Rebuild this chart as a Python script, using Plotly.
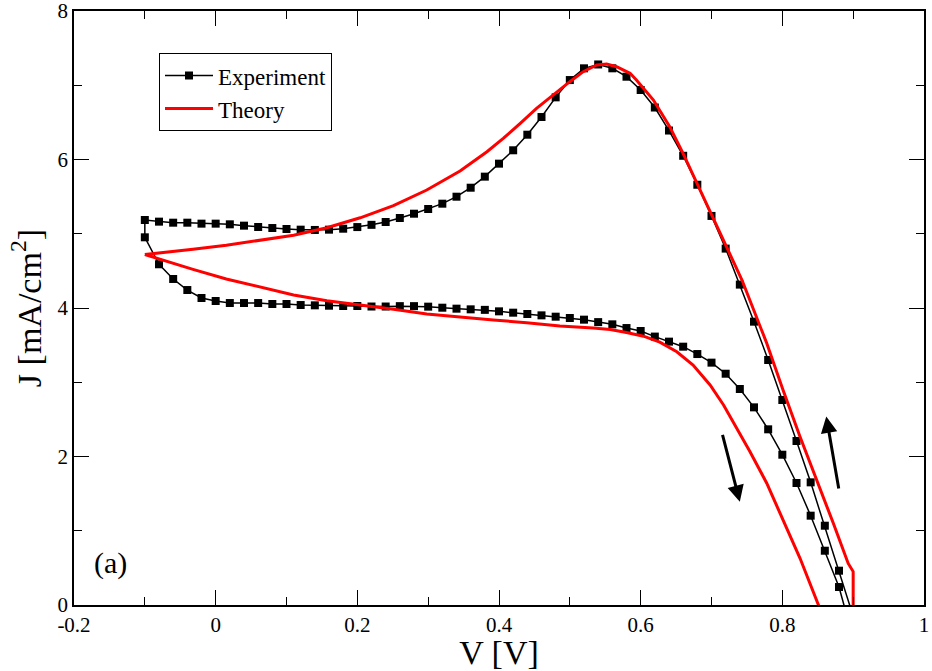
import plotly.graph_objects as go

# ---------------- data ----------------
# Experiment: outer (reverse) branch, V from 0.90 down to -0.10
exp_outer_v = [0.90, 0.88, 0.86, 0.84, 0.82, 0.80, 0.78, 0.76, 0.74, 0.72, 0.70, 0.68, 0.66, 0.64,
               0.62, 0.60, 0.58, 0.56, 0.54, 0.52, 0.50, 0.48, 0.46, 0.44, 0.42, 0.40, 0.38, 0.36,
               0.34, 0.32, 0.30, 0.28, 0.26, 0.24, 0.22, 0.20, 0.18, 0.16, 0.14, 0.12, 0.10, 0.08,
               0.06, 0.04, 0.02, 0.00, -0.02, -0.04, -0.06, -0.08, -0.10]
exp_outer_j = [-0.15, 0.462, 1.068, 1.652, 2.209, 2.761, 3.300, 3.816, 4.315, 4.80, 5.24, 5.66, 6.05, 6.39,
               6.70, 6.936, 7.115, 7.228, 7.28, 7.228, 7.07, 6.837, 6.572, 6.334, 6.124, 5.944, 5.769, 5.62,
               5.499, 5.405, 5.333, 5.27, 5.212, 5.158, 5.12, 5.09, 5.068, 5.055, 5.051, 5.055, 5.064, 5.077,
               5.091, 5.109, 5.127, 5.136, 5.136, 5.149, 5.149, 5.163, 5.185]
# Experiment: inner (forward) branch, V from -0.10 up to 0.90
exp_inner_v = [-0.10, -0.08, -0.06, -0.04, -0.02, 0.00, 0.02, 0.04, 0.06, 0.08, 0.10, 0.12, 0.14, 0.16,
               0.18, 0.20, 0.22, 0.24, 0.26, 0.28, 0.30, 0.32, 0.34, 0.36, 0.38, 0.40, 0.42, 0.44,
               0.46, 0.48, 0.50, 0.52, 0.54, 0.56, 0.58, 0.60, 0.62, 0.64, 0.66, 0.68, 0.70, 0.72,
               0.74, 0.76, 0.78, 0.80, 0.82, 0.84, 0.86, 0.88, 0.90]
exp_inner_j = [4.952, 4.589, 4.391, 4.242, 4.135, 4.094, 4.067, 4.067, 4.067, 4.054, 4.054, 4.040, 4.036, 4.031,
               4.027, 4.027, 4.02, 4.02, 4.025, 4.025, 4.018, 4.004, 3.991, 3.982, 3.975, 3.955, 3.937, 3.919,
               3.901, 3.883, 3.865, 3.843, 3.81, 3.78, 3.73, 3.69, 3.615, 3.547, 3.479, 3.380, 3.264, 3.115,
               2.909, 2.662, 2.366, 2.024, 1.643, 1.203, 0.731, 0.242, -0.45]

# Theory: forward (inner) branch from -0.1 toward Voc
th_inner_v = [-0.10, -0.079, -0.032, 0.015, 0.063, 0.11, 0.157, 0.204, 0.251, 0.298, 0.345, 0.392,
              0.439, 0.486, 0.533, 0.557, 0.580, 0.604, 0.627, 0.651, 0.674, 0.698, 0.717, 0.731,
              0.754, 0.778, 0.801, 0.825, 0.851, 0.90]
th_inner_j = [4.72, 4.656, 4.521, 4.391, 4.279, 4.175, 4.099, 4.045, 3.982, 3.919, 3.874, 3.838,
              3.802, 3.758, 3.73, 3.71, 3.67, 3.62, 3.54, 3.41, 3.232, 2.963, 2.694, 2.46,
              2.07, 1.64, 1.145, 0.629, 0.0, -1.2]
# Theory: reverse (outer) branch from 0.9 back to -0.1
th_outer_v = [0.90, 0.90, 0.893, 0.872, 0.848, 0.825, 0.801, 0.778, 0.743, 0.72, 0.70, 0.68, 0.66,
              0.641, 0.618, 0.594, 0.585, 0.566, 0.552, 0.538, 0.519, 0.500, 0.477, 0.453, 0.430,
              0.406, 0.383, 0.345, 0.298, 0.251, 0.204, 0.157, 0.11, 0.063, 0.015, -0.032, -0.079, -0.10]
th_outer_j = [-1.2, 0.45, 0.56, 1.10, 1.684, 2.267, 2.896, 3.525, 4.377, 4.85, 5.28, 5.69, 6.08,
              6.442, 6.801, 7.07, 7.161, 7.25, 7.286, 7.273, 7.183, 7.048, 6.878, 6.689, 6.487,
              6.285, 6.105, 5.845, 5.589, 5.378, 5.215, 5.08, 4.98, 4.91, 4.845, 4.79, 4.745, 4.72]

exp_v = exp_outer_v + exp_inner_v
exp_j = exp_outer_j + exp_inner_j
th_v = th_inner_v + th_outer_v
th_j = th_inner_j + th_outer_j

x_ticks = [-0.2, 0, 0.2, 0.4, 0.6, 0.8, 1]
x_tick_labels = ["-0.2", "0", "0.2", "0.4", "0.6", "0.8", "1"]
y_ticks = [0, 2, 4, 6, 8]
y_tick_labels = ["0", "2", "4", "6", "8"]

# arrows (tail -> head)
arrow_down = dict(tail=(0.715, 2.31), head=(0.740, 1.39))
arrow_up = dict(tail=(0.880, 1.55), head=(0.862, 2.54))

FONT = "Liberation Serif, Times New Roman, serif"

fig = go.Figure()
fig.add_trace(go.Scatter(
    x=exp_v, y=exp_j, mode="lines+markers", name="Experiment",
    line=dict(color="black", width=1.5),
    marker=dict(symbol="square", size=8, color="black"),
))
fig.add_trace(go.Scatter(
    x=th_v, y=th_j, mode="lines", name="Theory",
    line=dict(color="#ff0000", width=3),
))

for a in (arrow_down, arrow_up):
    fig.add_annotation(
        x=a["head"][0], y=a["head"][1], ax=a["tail"][0], ay=a["tail"][1],
        xref="x", yref="y", axref="x", ayref="y",
        text="", showarrow=True, arrowhead=2, arrowsize=1.1, arrowwidth=3,
        arrowcolor="black",
    )

fig.add_annotation(x=-0.148, y=0.57, xref="x", yref="y", text="(a)",
                   showarrow=False, font=dict(family=FONT, size=30, color="black"))

axis_common = dict(
    showline=True, linecolor="black", linewidth=1.5, mirror="allticks",
    ticks="inside", ticklen=15, tickwidth=1.2, tickcolor="black",
    showgrid=False, zeroline=False, automargin=False,
    ticklabeloverflow="allow",
    tickfont=dict(family=FONT, size=21, color="black"),
)

fig.update_xaxes(
    range=[-0.2, 1], tickvals=x_ticks, ticktext=x_tick_labels,
    minor=dict(ticks="inside", ticklen=8, dtick=0.1, tick0=0, tickcolor="black", tickwidth=1.2),
    title=dict(text="V [V]", font=dict(family=FONT, size=34, color="black"), standoff=5),
    **axis_common,
)
fig.update_yaxes(
    range=[0, 8], tickvals=y_ticks, ticktext=y_tick_labels,
    minor=dict(ticks="inside", ticklen=8, dtick=1, tick0=0, tickcolor="black", tickwidth=1.2),
    title=dict(text="J [mA/cm<sup>2</sup>]", font=dict(family=FONT, size=34, color="black"), standoff=6),
    **axis_common,
)

fig.update_layout(
    width=932, height=671,
    margin=dict(l=74, r=8, t=11, b=66),
    plot_bgcolor="white", paper_bgcolor="white",
    showlegend=True,
    legend=dict(
        x=0.1, y=0.929, xanchor="left", yanchor="top",
        bordercolor="black", borderwidth=1, bgcolor="white",
        font=dict(family=FONT, size=23, color="black"),
        itemwidth=48, tracegroupgap=0,
    ),
)

# remove the default 8px page margin so the figure fills the window exactly
fig.write_html(
    "out.html",
    config={"displayModeBar": False},
    post_script="document.body.style.margin='0';document.body.style.overflow='hidden';",
)
